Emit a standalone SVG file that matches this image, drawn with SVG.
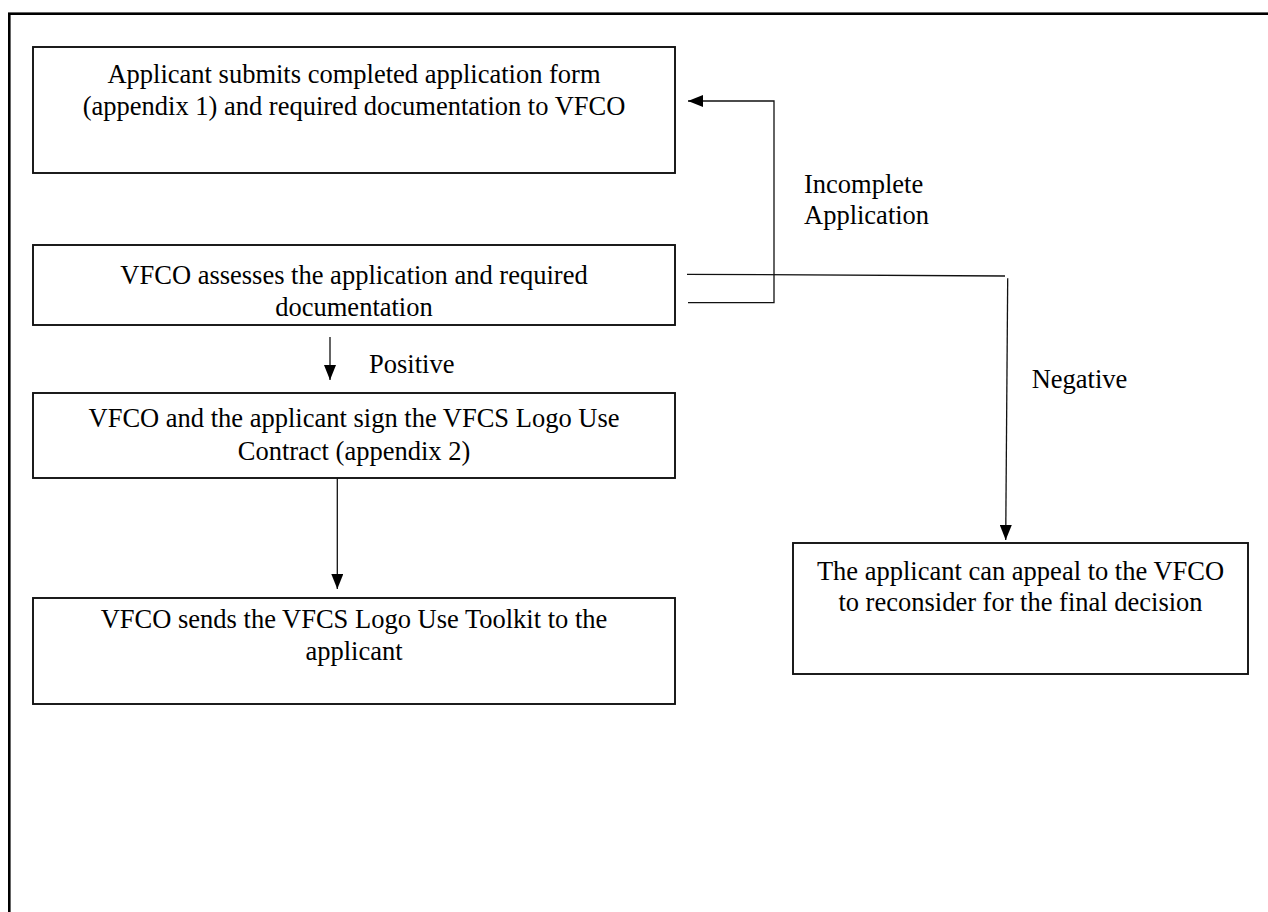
<svg xmlns="http://www.w3.org/2000/svg" width="1268" height="912" viewBox="0 0 1268 912">
<style>
.frame{fill:none;stroke:#000;stroke-width:2.6}
.box{fill:#fff;stroke:#111;stroke-width:1.9}
.t{font-family:"Liberation Serif","Times New Roman",serif;font-size:26.5px;fill:#000}
.c{text-anchor:middle}
.ln{fill:none;stroke:#111;stroke-width:1.3}
</style>
<defs>
<marker id="ah" viewBox="0 0 15 12" refX="15" refY="6" markerWidth="15" markerHeight="12" markerUnits="userSpaceOnUse" orient="auto">
<path d="M0,0 L15,6 L0,12 Z" fill="#000"/>
</marker>
</defs>
<rect width="1268" height="912" fill="#fff"/>
<rect class="frame" x="9.3" y="13.7" width="1290" height="930"/>

<g id="n1">
<rect class="box" x="33" y="47" width="642" height="126"/>
<text class="t c" x="354" y="83">Applicant submits completed application form</text>
<text class="t c" x="354" y="115">(appendix 1) and required documentation to VFCO</text>
</g>
<g id="n2">
<rect class="box" x="33" y="245" width="642" height="80"/>
<text class="t c" x="354" y="284">VFCO assesses the application and required</text>
<text class="t c" x="354" y="316">documentation</text>
</g>
<g id="n3">
<rect class="box" x="33" y="393" width="642" height="85"/>
<text class="t c" x="354" y="427">VFCO and the applicant sign the VFCS Logo Use</text>
<text class="t c" x="354" y="460">Contract (appendix 2)</text>
</g>
<g id="n4">
<rect class="box" x="33" y="598" width="642" height="106"/>
<text class="t c" x="354" y="628">VFCO sends the VFCS Logo Use Toolkit to the</text>
<text class="t c" x="354" y="660">applicant</text>
</g>
<g id="n5">
<rect class="box" x="793" y="543" width="455" height="131"/>
<text class="t c" x="1020.5" y="580">The applicant can appeal to the VFCO</text>
<text class="t c" x="1020.5" y="611">to reconsider for the final decision</text>
</g>

<g id="connectors">
<polyline class="ln" points="688,302.7 774,302.7 774,101 688,101" marker-end="url(#ah)"/>
<line class="ln" x1="330" y1="337" x2="330" y2="380" marker-end="url(#ah)"/>
<line class="ln" x1="337.3" y1="478" x2="337.3" y2="589" marker-end="url(#ah)"/>
<line class="ln" x1="687" y1="274.3" x2="1005" y2="276"/>
<line class="ln" x1="1007.7" y1="278.3" x2="1005.7" y2="540" marker-end="url(#ah)"/>
</g>

<g id="labels">
<text class="t" x="804" y="193">Incomplete</text>
<text class="t" x="804" y="224">Application</text>
<text class="t" x="369" y="373">Positive</text>
<text class="t" x="1031.7" y="388">Negative</text>
</g>
</svg>
